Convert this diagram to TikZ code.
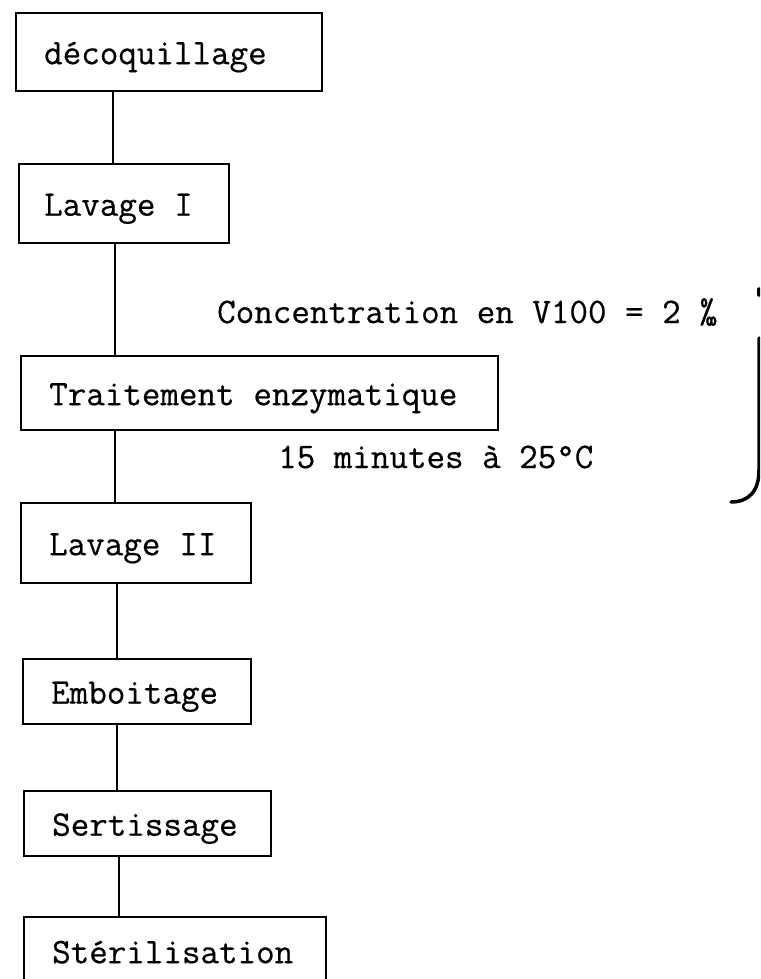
\documentclass[tikz,border=0pt]{standalone}
\usepackage{fontspec}
\newfontfamily\machine{Latin Modern Mono}[FakeBold=0.5, WordSpace={1,0,0}]
\newcommand\blanc{\hspace*{0.525em}}

\begin{document}
\begin{tikzpicture}[x=1pt, y=-1pt,
    etape/.style={draw, line width=2.4pt, anchor=north west,
      inner xsep=28pt, inner ysep=0pt, text height=34pt, text depth=10pt,
      font=\machine\fontsize{36}{40}\selectfont},
    lien/.style={line width=2.8pt},
    remarque/.style={anchor=base west, inner sep=0pt,
      font=\machine\fontsize{36}{40}\selectfont},
    accol/.style={line width=3.5pt, line cap=round}]
  \useasboundingbox (0,0) rectangle (760,979);
  \clip (0,0) rectangle (760,979);

  \node[etape, text width=250pt, minimum height=78pt] (deco) at (15,12) {décoquillage};
  \node[etape, text width=160pt, minimum height=79pt, inner xsep=25pt] (lavI) at (18,163) {Lavage\blanc I};
  \node[etape, text width=421pt, minimum height=74pt] (trait) at (20,355) {Traitement\blanc enzymatique};
  \node[etape, text width=174pt, minimum height=80pt] (lavII) at (20,502) {Lavage\blanc II};
  \node[etape, text width=172pt, minimum height=65pt] (emb) at (22,658) {Emboitage};
  \node[etape, text width=191pt, minimum height=65pt] (sert) at (23,790) {Sertissage};
  \node[etape, text width=246pt, minimum height=80pt, text depth=22pt] (ster) at (23,916) {Stérilisation};

  \draw[lien] ([xshift=98pt]deco.south west) -- ([xshift=95pt]lavI.north west);
  \draw[lien] ([xshift=97pt]lavI.south west) -- ([xshift=95pt]trait.north west);
  \draw[lien] ([xshift=95pt]trait.south west) -- ([xshift=95pt]lavII.north west);
  \draw[lien] ([xshift=97pt]lavII.south west) -- ([xshift=95pt]emb.north west);
  \draw[lien] ([xshift=95pt]emb.south west) -- ([xshift=94pt]sert.north west);
  \draw[lien] ([xshift=96pt]sert.south west) -- ([xshift=96pt]ster.north west);

  \node[remarque] (conc) at (217,323) {Concentration en V100 = 2 ‰};
  \node[remarque] (duree) at (278,468) {15 minutes à 25°C};

  \draw[accol] (759,289) -- (759,295);
  \draw[accol] (759,338) -- (759,470) .. controls (759,492) and (748,502) .. (731,502);
\end{tikzpicture}
\end{document}
